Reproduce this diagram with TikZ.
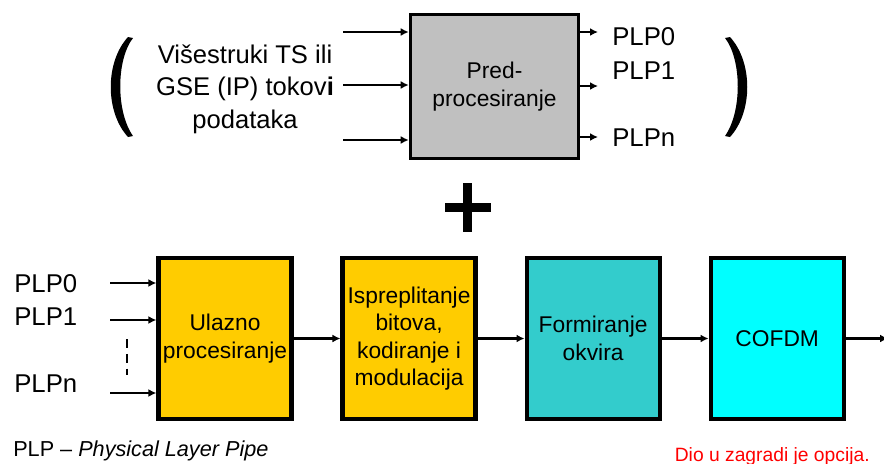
\documentclass[tikz,border=0pt]{standalone}
\usepackage{fontspec}
\setmainfont{Liberation Sans}
\usetikzlibrary{arrows.meta,calc,positioning}
\definecolor{DvbGray}{HTML}{C0C0C0}
\definecolor{DvbYellow}{HTML}{FFCC00}
\definecolor{DvbTeal}{HTML}{33CCCC}
\definecolor{DvbCyan}{HTML}{00FFFF}
\definecolor{DvbRed}{HTML}{FF0000}
\tikzset{
  dvb block/.style={
    draw=black,
    line width=3pt,
    align=center,
    minimum width=3.325cm,
    minimum height=4.025cm,
    inner sep=1pt,
    font=\fontsize{16.2}{19.5}\selectfont
  },
  dvb pre block/.style={
    draw=black,
    fill=DvbGray,
    line width=2.5pt,
    align=center,
    minimum width=4.2cm,
    minimum height=3.6cm,
    inner sep=1pt,
    font=\fontsize{16.2}{19.5}\selectfont
  },
  dvb flow/.style={-{Latex[length=0.2cm,width=0.2cm]},draw=black,line width=1.9pt},
  dvb dots/.style={draw=black,line width=1.5pt,dash pattern=on 0.22cm off 0.15cm},
  dvb label/.style={inner sep=0pt,font=\fontsize{18.3}{22}\selectfont},
  dvb note/.style={inner sep=0pt,font=\fontsize{15.4}{18}\selectfont}
}

\begin{document}
\begin{tikzpicture}[x=0.025cm,y=-0.025cm,node distance=1.17cm]
  \useasboundingbox (0,0) rectangle (884,463);

  % optional pre-processing part
  \node[dvb pre block] (pre) at (494.5,86.5) {Pred-\\procesiranje};
  \node[inner sep=0pt,align=center,font=\fontsize{18.2}{23}\selectfont] (tokovi) at (245,89) {Višestruki TS ili\\GSE (IP) tokov\textbf{i}\\podataka};
  \coordinate (in0) at (343,32);
  \coordinate (in1) at (343,85);
  \coordinate (in2) at (343,140);
  \coordinate (out0) at (598,32);
  \coordinate (out1) at (598,86);
  \coordinate (out2) at (598,137);
  \draw[dvb flow] (in0) -- (in0 -| pre.west);
  \draw[dvb flow] (in1) -- (in1 -| pre.west);
  \draw[dvb flow] (in2) -- (in2 -| pre.west);
  \draw[dvb flow] (out0 -| pre.east) -- (out0);
  \draw[dvb flow] (out1 -| pre.east) -- (out1);
  \draw[dvb flow] (out2 -| pre.east) -- (out2);
  \node[dvb label,anchor=base west] (prePlp0) at (612,45) {PLP0};
  \node[dvb label,anchor=base west] (prePlp1) at (612,79) {PLP1};
  \node[dvb label,anchor=base west] (prePlpn) at (612,146) {PLPn};

  % brackets and plus
  \fill (128,37) -- (133,38) .. controls (116,60) and (116,112) .. (133,136) -- (128,137) .. controls (105,112) and (105,62) .. cycle;
  \fill (730,37) -- (725,38) .. controls (742,60) and (742,112) .. (725,136) -- (730,137) .. controls (753,112) and (753,62) .. cycle;
  \fill (463,183) rectangle (472,232);
  \fill (445,203) rectangle (491,212);

  % main chain
  \node[dvb block,fill=DvbYellow] (ulazno) at (225,338.5) {Ulazno\\procesiranje};
  \node[dvb block,fill=DvbYellow,right=of ulazno] (kodiranje) {Ispreplitanje\\bitova,\\kodiranje i\\modulacija};
  \node[dvb block,fill=DvbTeal,right=of kodiranje] (okvir) {Formiranje\\okvira};
  \node[dvb block,fill=DvbCyan,right=of okvir] (cofdm) {COFDM};
  \coordinate (izlaz) at (888,338.5);
  \draw[dvb flow] (ulazno) -- (kodiranje);
  \draw[dvb flow] (kodiranje) -- (okvir);
  \draw[dvb flow] (okvir) -- (cofdm);
  \draw[dvb flow] (cofdm) -- (izlaz);

  \coordinate (plp0) at (110,283);
  \coordinate (plp1) at (110,320);
  \coordinate (plpn) at (110,393);
  \draw[dvb flow] (plp0) -- (plp0 -| ulazno.west);
  \draw[dvb flow] (plp1) -- (plp1 -| ulazno.west);
  \draw[dvb flow] (plpn) -- (plpn -| ulazno.west);
  \coordinate (dtop) at (127,339);
  \coordinate (dbot) at (127,375);
  \draw[dvb dots] (dtop) -- (dbot);
  \node[dvb label,anchor=base west] (lblPlp0) at (14,292) {PLP0};
  \node[dvb label,anchor=base west] (lblPlp1) at (14,325) {PLP1};
  \node[dvb label,anchor=base west] (lblPlpn) at (14,392) {PLPn};

  \node[dvb note,anchor=base west] (legenda) at (13,456) {PLP -- \textit{Physical Layer Pipe}};
  \node[inner sep=0pt,text=DvbRed,font=\fontsize{13.7}{16}\selectfont,anchor=base east] (opcija) at (870,461) {Dio u zagradi je opcija.};
\end{tikzpicture}
\end{document}
